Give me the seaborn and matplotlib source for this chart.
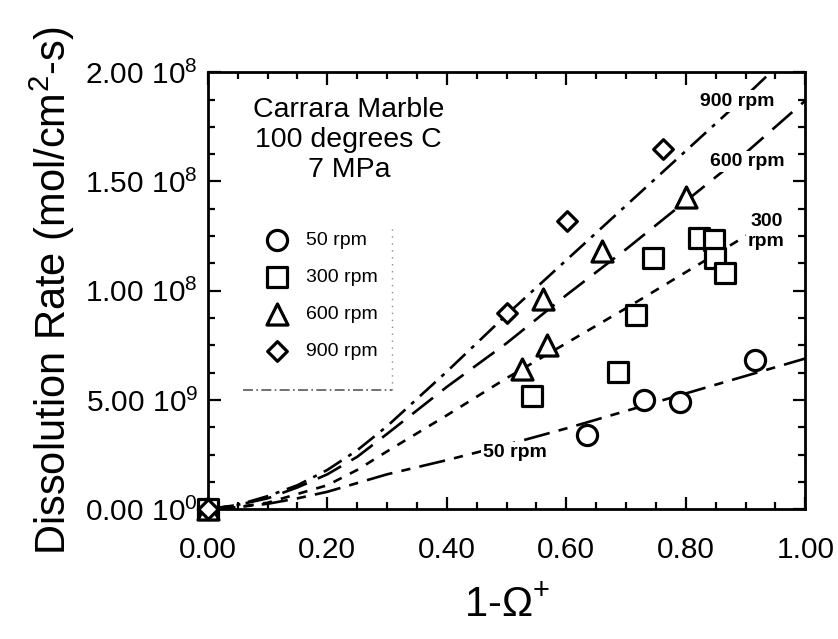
import numpy as np
import pandas as pd
import matplotlib
matplotlib.use("Agg")
import matplotlib.pyplot as plt
import seaborn as sns
from matplotlib.ticker import MultipleLocator

# ---------------- data ----------------
series_labels = ["50 rpm", "300 rpm", "600 rpm", "900 rpm"]

x_50 = [0.0, 0.635, 0.730, 0.790, 0.915]
y_50 = [0.0, 3.4e-9, 5.0e-9, 4.9e-9, 6.85e-9]

x_300 = [0.0, 0.543, 0.687, 0.717, 0.745, 0.822, 0.848, 0.849, 0.865]
y_300 = [0.0, 5.2e-9, 6.3e-9, 8.9e-9, 1.15e-8, 1.24e-8, 1.23e-8, 1.15e-8, 1.08e-8]

x_600 = [0.0, 0.526, 0.568, 0.561, 0.660, 0.800]
y_600 = [0.0, 6.4e-9, 7.5e-9, 9.6e-9, 1.18e-8, 1.43e-8]

x_900 = [0.0, 0.500, 0.601, 0.762]
y_900 = [0.0, 9.0e-9, 1.32e-8, 1.65e-8]

# fitted curves
fit_x_50 = [0.0, 0.05, 0.1, 0.15, 0.2, 0.25, 0.3, 0.4, 0.5, 0.6, 0.7, 0.8, 0.9, 1.0]
fit_y_50 = [0.0, 0.01e-8, 0.025e-8, 0.05e-8, 0.08e-8, 0.12e-8, 0.16e-8, 0.225e-8,
            0.295e-8, 0.37e-8, 0.45e-8, 0.53e-8, 0.61e-8, 0.69e-8]

fit_x_300 = [0.0, 0.05, 0.1, 0.15, 0.2, 0.25, 0.3, 0.4, 0.5, 0.6, 0.7, 0.8, 0.9, 0.95]
fit_y_300 = [0.0, 0.01e-8, 0.03e-8, 0.07e-8, 0.11e-8, 0.18e-8, 0.265e-8, 0.43e-8,
             0.60e-8, 0.76e-8, 0.92e-8, 1.085e-8, 1.25e-8, 1.33e-8]

fit_x_600 = [0.0, 0.05, 0.1, 0.15, 0.2, 0.25, 0.3, 0.4, 0.5, 0.6, 0.7, 0.8, 0.9, 1.0]
fit_y_600 = [0.0, 0.02e-8, 0.05e-8, 0.10e-8, 0.16e-8, 0.24e-8, 0.345e-8, 0.56e-8,
             0.76e-8, 0.98e-8, 1.19e-8, 1.41e-8, 1.63e-8, 1.87e-8]

fit_x_900 = [0.0, 0.05, 0.1, 0.15, 0.2, 0.25, 0.3, 0.4, 0.5, 0.6, 0.7, 0.8, 0.9, 0.95]
fit_y_900 = [0.0, 0.02e-8, 0.06e-8, 0.11e-8, 0.18e-8, 0.27e-8, 0.38e-8, 0.63e-8,
             0.89e-8, 1.14e-8, 1.39e-8, 1.64e-8, 1.89e-8, 2.02e-8]

x_ticks = [0.0, 0.2, 0.4, 0.6, 0.8, 1.0]
x_tick_labels = ["0.00", "0.20", "0.40", "0.60", "0.80", "1.00"]
y_ticks = [0.0, 0.5e-8, 1.0e-8, 1.5e-8, 2.0e-8]
y_tick_labels = ["0.00 10$^{0}$", "5.00 10$^{9}$", "1.00 10$^{8}$",
                 "1.50 10$^{8}$", "2.00 10$^{8}$"]

# ---------------- style ----------------
sns.set_theme(style="white")
plt.rcParams["font.family"] = ["Liberation Sans", "DejaVu Sans"]
plt.rcParams["mathtext.fontset"] = "custom"
plt.rcParams["mathtext.rm"] = "Liberation Sans"
plt.rcParams["mathtext.it"] = "Liberation Sans:italic"
plt.rcParams["mathtext.bf"] = "Liberation Sans:bold"
for key in ["text.color", "axes.labelcolor", "xtick.color", "ytick.color",
            "xtick.labelcolor", "ytick.labelcolor", "axes.edgecolor"]:
    plt.rcParams[key] = "black"

fig = plt.figure(figsize=(8.38, 6.39), dpi=100)
ax = fig.add_axes([0.248, 0.203, 0.713, 0.684])

# fitted curves
line_specs = [
    (fit_x_50, fit_y_50, (0, (10, 3.5, 3.5, 3.5))),
    (fit_x_300, fit_y_300, (0, (3.5, 3.5))),
    (fit_x_600, fit_y_600, (0, (10, 4.5))),
    (fit_x_900, fit_y_900, (0, (8, 3, 1.5, 3))),
]
for fx, fy, ls in line_specs:
    sns.lineplot(x=fx, y=fy, ax=ax, color="black", linewidth=1.9,
                 linestyle=ls, sort=False, zorder=2)

# data points
point_specs = [
    (x_50, y_50, "o", 210, series_labels[0]),
    (x_300, y_300, "s", 190, series_labels[1]),
    (x_600, y_600, "^", 230, series_labels[2]),
    (x_900, y_900, "D", 100, series_labels[3]),
]
for px, py, mk, sz, lab in point_specs:
    sns.scatterplot(x=px, y=py, ax=ax, marker=mk, s=sz, color="black",
                    facecolor="white", edgecolor="black", linewidth=2.3,
                    label=lab, zorder=4, clip_on=False)

ax.set_xlim(0, 1.0)
ax.set_ylim(0, 2.0e-8)
ax.set_xticks(x_ticks)
ax.set_xticklabels(x_tick_labels)
ax.set_yticks(y_ticks)
ax.set_yticklabels(y_tick_labels)
ax.xaxis.set_minor_locator(MultipleLocator(0.05))
ax.yaxis.set_minor_locator(MultipleLocator(0.125e-8))
ax.tick_params(which="both", direction="in", top=True, right=True,
               bottom=True, left=True, color="black", labelcolor="black", width=1.6)
ax.tick_params(which="major", length=9, labelsize=21.5)
ax.tick_params(which="minor", length=5)
ax.tick_params(axis="x", which="major", pad=19)
ax.tick_params(axis="y", which="major", pad=7)
for sp in ax.spines.values():
    sp.set_color("black")
    sp.set_linewidth(2.0)

ax.set_xlabel("1-\u03A9$^{+}$", fontsize=30, labelpad=16, color="black")
ax.set_ylabel("Dissolution Rate (mol/cm$^{2}$-s)", fontsize=30, labelpad=6, color="black")

# annotation block
ax.text(0.236, 0.845, "Carrara Marble\n100 degrees C\n7 MPa", transform=ax.transAxes,
        ha="center", va="center", fontsize=20.5, linespacing=1.2, color="black")

# curve labels
lab_kw = dict(transform=ax.transAxes, ha="center", va="center", fontsize=14,
              fontweight="bold", color="black",
              bbox=dict(facecolor="white", edgecolor="none", pad=1.5))
ax.text(0.886, 0.934, "900 rpm", **lab_kw)
ax.text(0.903, 0.796, "600 rpm", **lab_kw)
ax.text(0.935, 0.636, "300\nrpm", linespacing=1.2, **lab_kw)
ax.text(0.514, 0.130, "50 rpm", **lab_kw)

# legend
leg = ax.legend(loc="upper left", bbox_to_anchor=(0.099, 0.636), frameon=False,
                fontsize=14, labelspacing=1.0, handletextpad=1.0,
                handlelength=1.0, borderpad=0, borderaxespad=0)
for t in leg.get_texts():
    t.set_color("black")

# faint legend frame remnants
ax.plot([0.059, 0.309], [0.272, 0.272], transform=ax.transAxes, color="0.35",
        linewidth=1.2, linestyle=(0, (6, 2, 1, 2)), clip_on=False, zorder=1)
ax.plot([0.309, 0.309], [0.272, 0.645], transform=ax.transAxes, color="0.55",
        linewidth=1.0, linestyle=(0, (1, 4)), clip_on=False, zorder=1)

fig.savefig("out.png", dpi=100)
